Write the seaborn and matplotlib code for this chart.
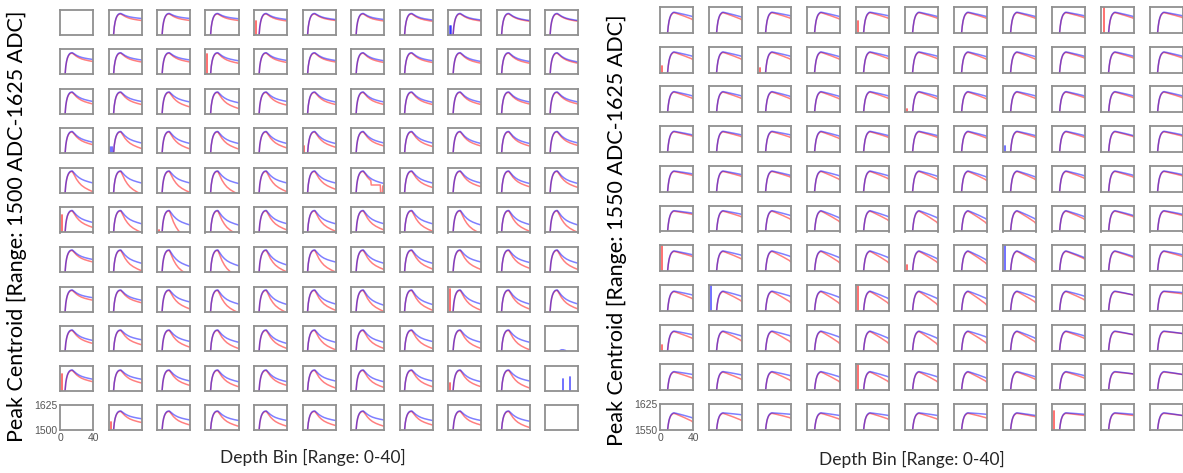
import numpy as np
import pandas as pd
import matplotlib
matplotlib.use("Agg")
import matplotlib.pyplot as plt
import seaborn as sns

# ---------------- text ----------------
X_LABEL = "Depth Bin [Range: 0-40]"
Y_LABEL_L = "Peak Centroid [Range: 1500 ADC-1625 ADC]"
Y_LABEL_R = "Peak Centroid [Range: 1550 ADC-1625 ADC]"
Y_RANGE_L = [1500, 1625]
Y_RANGE_R = [1550, 1625]
X_RANGE = [0, 40]

# ---------------- curve templates ----------------
# left grid: rise (fraction of peak) and tail (fraction of drop peak->end)
L_RISE_X = [6, 7, 8, 9, 10, 11, 12, 13, 14, 15]
L_RISE_F = [0.0, 0.42, 0.64, 0.78, 0.87, 0.93, 0.97, 0.99, 1.0, 1.0]
L_TAIL_X = [17, 20, 23, 26, 30, 35, 40]
L_TAIL_F = [0.15, 0.38, 0.55, 0.68, 0.80, 0.91, 1.0]
# right grid
R_RISE_X = [9, 10, 11, 12, 13, 14, 15, 16, 17]
R_RISE_F = [0.0, 0.38, 0.62, 0.76, 0.86, 0.92, 0.96, 0.99, 1.0]
R_TAIL_X = [20, 25, 30, 35, 38, 40]
R_TAIL_F = [0.10, 0.30, 0.50, 0.72, 0.85, 1.0]

# ---------------- per-panel levels (fraction of box height) ----------------
nan = np.nan
L_PEAK = [0.86, 0.87, 0.88, 0.88, 0.88, 0.88, 0.88, 0.86, 0.84, 0.82, 0.76]
L_BLUE_END = [
    [nan, .66, .66, .65, .62, .62, .62, .60, .60, .58, .58],
    [.60, .58, .58, .55, .56, .56, .55, .55, .52, .52, .50],
    [.50, .50, .48, .45, .50, .48, .48, .47, .47, .48, .48],
    [.45, .42, .40, .40, .40, .40, .42, .42, .40, .40, .42],
    [.40, .40, .40, .38, .40, .40, .38, .40, .40, .38, .38],
    [.40, .35, .30, .30, .35, .35, .35, .35, .30, .32, .30],
    [.50, .35, .22, .25, .28, .40, .35, .35, .40, .38, .35],
    [.55, .45, .38, .30, .28, .30, .25, .28, .30, .30, .30],
    [.42, .45, .38, .35, .30, .35, .35, .38, .35, .35, nan],
    [.45, .45, .38, .35, .35, .38, .35, .38, .35, .38, nan],
    [nan, .45, .40, .38, .38, .38, .40, .38, .38, .35, nan],
]
L_RED_END = [
    [nan, .58, .58, .58, .56, .58, .56, .55, .56, .55, .55],
    [.52, .50, .50, .45, .48, .50, .48, .48, .45, .45, .45],
    [.40, .38, .28, .22, .35, .38, .38, .38, .38, .40, .40],
    [.35, .20, .18, .18, .22, .25, .30, .28, .30, .30, .32],
    [.05, -.05, .02, -.05, .05, .15, .25, .22, .25, .25, .22],
    [.20, .00, -.30, -.10, .10, .05, .10, .05, -.05, .05, .00],
    [.40, .05, -.15, -.20, .00, .00, .10, .12, .10, .15, .10],
    [.45, .35, .10, -.05, -.05, .05, .00, .05, .05, .10, .10],
    [.30, .25, .15, .10, .10, .05, .10, .10, .10, .05, nan],
    [.35, .30, .20, .15, .20, .10, .12, .15, .15, .10, nan],
    [nan, .30, .20, .15, .15, .18, .15, .20, .20, .10, nan],
]
R_PEAK = [0.80, 0.80, 0.80, 0.80, 0.80, 0.80, 0.78, 0.76, 0.75, 0.72, 0.66]
R_BLUE_END = [
    [.62, .60, .65, .62, .65, .62, .62, .62, .65, .62, .65],
    [.62, .62, .62, .60, .62, .62, .60, .60, .62, .62, .62],
    [.62, .62, .60, .60, .62, .60, .60, .62, .62, .62, .62],
    [.65, .65, .65, .60, .62, .62, .60, .62, .62, .62, .65],
    [.68, .65, .62, .60, .60, .58, .55, .55, .60, .62, .65],
    [.70, .65, .60, .50, .55, .50, .45, .45, .55, .60, .65],
    [.62, .60, .55, .50, .50, .45, .40, .40, .50, .55, .62],
    [.60, .55, .55, .50, .45, .45, .45, .50, .55, .60, .70],
    [.60, .55, .55, .50, .45, .45, .50, .45, .55, .60, .65],
    [.60, .58, .55, .50, .50, .50, .45, .50, .55, .62, .60],
    [.45, .58, .60, .55, .55, .55, .60, .55, .60, .60, .55],
]
R_RED_END = [
    [.50, .50, .55, .52, .55, .55, .55, .55, .58, .55, .58],
    [.50, .50, .50, .50, .52, .52, .50, .50, .55, .55, .55],
    [.52, .52, .50, .50, .52, .50, .50, .52, .55, .55, .55],
    [.60, .58, .55, .50, .55, .55, .52, .55, .55, .58, .60],
    [.62, .58, .55, .45, .48, .45, .42, .45, .50, .55, .60],
    [.65, .55, .45, .35, .40, .30, .28, .30, .45, .55, .60],
    [.55, .45, .35, .30, .30, .30, .25, .30, .45, .50, .55],
    [.45, .35, .30, .25, .25, .20, .20, .30, .40, .60, .65],
    [.45, .35, .30, .25, .25, .20, .25, .30, .45, .60, .65],
    [.45, .40, .35, .30, .30, .30, .30, .40, .45, .62, .60],
    [.30, .35, .45, .40, .40, .40, .45, .50, .55, .55, .55],
]

# vertical spikes: (grid, row, col, series, x, top fraction)
SPIKES = [
    ("L", 0, 4, "red", 3, 0.55), ("L", 1, 3, "red", 2, 0.80),
    ("L", 3, 1, "blue", 2, 0.25), ("L", 3, 1, "blue", 4, 0.25),
    ("L", 3, 5, "red", 2, 0.30), ("L", 5, 0, "red", 3, 0.70),
    ("L", 5, 2, "red", 2, 0.10), ("L", 0, 8, "blue", 2, 0.35),
    ("L", 0, 8, "blue", 4, 0.35), ("L", 7, 8, "red", 2, 0.90),
    ("L", 9, 0, "red", 3, 0.65), ("L", 9, 8, "red", 3, 0.30),
    ("L", 10, 1, "red", 3, 0.30), ("L", 9, 10, "blue", 22, 0.45),
    ("L", 9, 10, "blue", 30, 0.55),
    ("R", 0, 4, "red", 3, 0.45), ("R", 0, 9, "red", 4, 1.0),
    ("R", 1, 0, "red", 2, 0.25), ("R", 2, 5, "red", 2, 0.15),
    ("R", 3, 7, "blue", 3, 0.25), ("R", 6, 0, "red", 3, 1.0),
    ("R", 6, 5, "red", 3, 0.25), ("R", 6, 7, "blue", 3, 1.0),
    ("R", 7, 1, "blue", 3, 1.0), ("R", 7, 4, "red", 3, 1.0),
    ("R", 9, 4, "red", 3, 1.0), ("R", 10, 8, "red", 3, 0.75),
    ("R", 8, 0, "red", 3, 0.20), ("R", 1, 2, "red", 3, 0.20),
]
# irregular red tail in left panel row 4 col 6
L46_RED_X = [24, 24.5, 35.5, 36, 38, 38.5, 40]
L46_RED_F = [0.50, 0.32, 0.32, -0.05, -0.05, 0.28, 0.28]
# small blue blip in left panel row 8 col 10
L810_BLUE_X = [18, 20, 22, 25]
L810_BLUE_F = [0.02, 0.05, 0.05, 0.02]

COLORS = {"red": "#ff0000", "blue": "#0000ff"}

sns.set_style("white")
plt.rcParams["font.family"] = ["Lato", "DejaVu Sans"]

W, H = 1183, 473
fig = plt.figure(figsize=(W / 100, H / 100), dpi=100)


def curve(rx, rf, tx, tf, peak, end):
    xs = list(rx) + list(tx)
    ys = [-0.06 + f * (peak + 0.06) for f in rf] + [peak - g * (peak - end) for g in tf]
    return xs, ys


def make_panel(grid, r, c):
    rows = []
    if grid == "L":
        pk, be, re_ = L_PEAK[r], L_BLUE_END[r][c], L_RED_END[r][c]
        rx, rf, tx, tf = L_RISE_X, L_RISE_F, L_TAIL_X, L_TAIL_F
    else:
        pk, be, re_ = R_PEAK[r], R_BLUE_END[r][c], R_RED_END[r][c]
        rx, rf, tx, tf = R_RISE_X, R_RISE_F, R_TAIL_X, R_TAIL_F
    if not np.isnan(re_):
        xs, ys = curve(rx, rf, tx, tf, pk - 0.02, re_)
        if grid == "L" and (r, c) == (4, 6):
            keep = [(x, y) for x, y in zip(xs, ys) if x < 24]
            xs = [k[0] for k in keep] + L46_RED_X
            ys = [k[1] for k in keep] + L46_RED_F
        rows += [(x, y, "red") for x, y in zip(xs, ys)]
    if not np.isnan(be):
        xs, ys = curve(rx, rf, tx, tf, pk, be)
        rows += [(x, y, "blue") for x, y in zip(xs, ys)]
    if grid == "L" and (r, c) == (8, 10):
        rows += [(x, y, "blue") for x, y in zip(L810_BLUE_X, L810_BLUE_F)]
    return rows


def draw_grid(grid, x0, xpitch, y0, ypitch, bw, bh, yr):
    for r in range(11):
        for c in range(11):
            px = x0 + c * xpitch
            py = y0 + r * ypitch
            ax = fig.add_axes([px / W, 1 - (py + bh) / H, bw / W, bh / H])
            rows = make_panel(grid, r, c)
            if rows:
                df = pd.DataFrame(rows, columns=["x", "f", "series"])
                df["y"] = yr[0] + df["f"] * (yr[1] - yr[0])
                sns.lineplot(data=df, x="x", y="y", hue="series",
                             hue_order=[h for h in ["red", "blue"] if h in set(df["series"])],
                             palette=COLORS, estimator=None, sort=False,
                             legend=False, linewidth=1.1, alpha=0.5, ax=ax)
            for g, sr, sc, s, sx, top in SPIKES:
                if g == grid and sr == r and sc == c:
                    ax.plot([sx, sx], [yr[0], yr[0] + top * (yr[1] - yr[0])],
                            color=COLORS[s], alpha=0.6, linewidth=1.3)
            ax.set_xlim(X_RANGE)
            ax.set_ylim(yr)
            ax.set_xlabel("")
            ax.set_ylabel("")
            for sp in ax.spines.values():
                sp.set_color("#909090")
                sp.set_linewidth(1.3)
            if r == 10 and c == 0:
                ax.set_xticks(X_RANGE)
                ax.set_yticks(yr)
                ax.tick_params(length=0, pad=2, labelsize=7.5, labelcolor="#555555")
                for t in ax.get_xticklabels() + ax.get_yticklabels():
                    t.set_family(["Liberation Sans", "DejaVu Sans"])
            else:
                ax.set_xticks([])
                ax.set_yticks([])


draw_grid("L", 60, 48.5, 10, 39.5, 33, 25, Y_RANGE_L)
draw_grid("R", 660, 49, 7, 39.7, 33, 26, Y_RANGE_R)

fig.text(17 / W, 1 - 226 / H, Y_LABEL_L, rotation=90, ha="center", va="center",
         fontsize=15.5, color="#000000")
fig.text(617 / W, 1 - 230 / H, Y_LABEL_R, rotation=90, ha="center", va="center",
         fontsize=15.5, color="#000000")
fig.text(313 / W, 1 - 457 / H, X_LABEL, ha="center", va="center", fontsize=12.5)
fig.text(912 / W, 1 - 459 / H, X_LABEL, ha="center", va="center", fontsize=12.5)

fig.savefig("out.png", dpi=100)
